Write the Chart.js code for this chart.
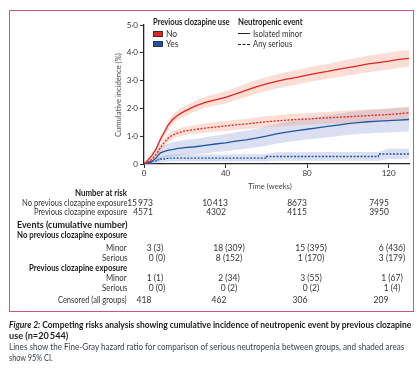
<!DOCTYPE html>
<html><head><meta charset="utf-8">
<script src="https://cdn.jsdelivr.net/npm/chart.js@4.4.1/dist/chart.umd.min.js"></script>
<style>
html,body{margin:0;padding:0;background:#fff;}
body{width:419px;height:373px;position:relative;overflow:hidden;font-family:Lato,"DejaVu Sans",sans-serif;}
#frame{position:absolute;left:9px;top:10px;width:405px;height:302px;border:1.5px solid #c9557c;box-sizing:border-box;}
#cv{position:absolute;left:0;top:0;}
.t{position:absolute;white-space:nowrap;line-height:1;color:#333;}
.box{position:absolute;width:10px;height:6px;box-sizing:border-box;border:0.8px solid #333;}
.ln{position:absolute;width:12px;height:0;}
</style></head>
<body>
<div id="frame"></div>
<canvas id="cv" width="419" height="195"></canvas>
<div id="txt"></div>
<script>
// ---- data ----
const weeks = [0,2,4,6,8,10,12,14,16,18,20,25,30,35,40,45,50,55,60,65,70,75,80,85,90,95,100,105,110,115,120,125,130];
const noMinor   = [0,0.15,0.32,0.55,0.88,1.15,1.42,1.60,1.73,1.82,1.90,2.08,2.22,2.31,2.40,2.52,2.65,2.77,2.88,2.97,3.05,3.12,3.20,3.27,3.33,3.40,3.47,3.53,3.60,3.65,3.70,3.76,3.80];
const noMinorLo = [0,0.10,0.24,0.45,0.76,1.02,1.27,1.44,1.56,1.64,1.72,1.89,2.02,2.10,2.18,2.29,2.41,2.53,2.63,2.72,2.79,2.86,2.94,3.00,3.06,3.12,3.18,3.24,3.30,3.35,3.40,3.45,3.50];
const noMinorHi = [0,0.20,0.40,0.65,1.00,1.28,1.57,1.76,1.90,2.00,2.08,2.27,2.42,2.52,2.62,2.75,2.89,3.01,3.13,3.22,3.31,3.38,3.46,3.54,3.60,3.68,3.76,3.82,3.90,3.95,4.00,4.07,4.10];
const noSer     = [0,0.08,0.18,0.35,0.58,0.78,0.94,1.04,1.10,1.15,1.19,1.24,1.29,1.33,1.37,1.41,1.44,1.48,1.52,1.55,1.58,1.60,1.62,1.64,1.66,1.68,1.70,1.72,1.74,1.76,1.78,1.81,1.84];
const noSerLo   = [0,0.05,0.12,0.26,0.46,0.65,0.80,0.90,0.96,1.00,1.04,1.08,1.12,1.16,1.19,1.23,1.26,1.29,1.32,1.35,1.37,1.39,1.41,1.43,1.45,1.46,1.48,1.50,1.52,1.54,1.56,1.58,1.62];
const noSerHi   = [0,0.11,0.24,0.44,0.70,0.91,1.08,1.18,1.24,1.30,1.34,1.40,1.46,1.50,1.55,1.59,1.62,1.67,1.72,1.75,1.79,1.81,1.83,1.85,1.87,1.90,1.92,1.94,1.96,1.98,2.00,2.04,2.06];
const yesMinor   = [0,0.05,0.10,0.22,0.40,0.45,0.50,0.52,0.55,0.57,0.59,0.62,0.67,0.72,0.76,0.82,0.87,0.93,1.00,1.08,1.15,1.20,1.25,1.30,1.35,1.40,1.45,1.49,1.52,1.54,1.56,1.58,1.60];
const yesMinorLo = [0,0.01,0.03,0.09,0.20,0.24,0.27,0.28,0.30,0.31,0.33,0.35,0.39,0.43,0.46,0.51,0.55,0.60,0.66,0.73,0.79,0.84,0.88,0.92,0.96,1.00,1.04,1.08,1.10,1.12,1.13,1.15,1.17];
const yesMinorHi = [0,0.10,0.18,0.36,0.62,0.68,0.74,0.77,0.81,0.84,0.87,0.90,0.96,1.02,1.07,1.14,1.20,1.27,1.35,1.44,1.52,1.57,1.63,1.69,1.75,1.80,1.86,1.90,1.94,1.96,1.99,2.01,2.03];
const yesSer     = [0,0.02,0.05,0.10,0.15,0.18,0.20,0.21,0.21,0.21,0.21,0.21,0.21,0.21,0.21,0.21,0.21,0.21,0.21,0.27,0.27,0.27,0.27,0.27,0.27,0.27,0.27,0.27,0.27,0.27,0.36,0.36,0.36];
const yesSerLo   = [0,0,0.01,0.03,0.05,0.07,0.08,0.09,0.09,0.09,0.09,0.09,0.09,0.09,0.09,0.09,0.09,0.09,0.09,0.12,0.12,0.12,0.12,0.12,0.12,0.12,0.12,0.12,0.12,0.12,0.18,0.18,0.18];
const yesSerHi   = [0,0.07,0.13,0.20,0.26,0.30,0.33,0.34,0.34,0.34,0.34,0.34,0.34,0.34,0.34,0.35,0.35,0.35,0.35,0.42,0.42,0.42,0.42,0.43,0.43,0.43,0.43,0.43,0.43,0.43,0.55,0.55,0.55];
const xTicks = [0,40,80,120];
const yTickLabels = ['0','1·0','2·0','3·0','4·0','5·0'];
const riskNo  = ['15\u2009973','10\u2009413','8673','7495'];
const riskYes = ['4571','4302','4115','3950'];
const evNoMinor  = ['3 (3)','18 (309)','15 (395)','6 (436)'];
const evNoSer    = ['0 (0)','8 (152)','1 (170)','3 (179)'];
const evYesMinor = ['1 (1)','2 (34)','3 (55)','1 (67)'];
const evYesSer   = ['0 (0)','0 (2)','0 (2)','1 (4)'];
const censored   = ['418','462','306','209'];

const RED='#e8231f', BLUE='#1f55a3';
const RED_BAND='rgba(243,150,120,0.30)', BLUE_BAND='rgba(140,160,215,0.32)';
const pts = arr => weeks.map((w,i)=>({x:w,y:arr[i]}));
const band = (lo,hi,col)=>[
  {data:pts(lo),borderWidth:0,pointRadius:0,fill:false,order:5},
  {data:pts(hi),borderWidth:0,pointRadius:0,fill:'-1',backgroundColor:col,order:5}
];
const line = (arr,col,dash,stepped)=>({data:pts(arr),borderColor:col,borderWidth:1.3,borderDash:dash,pointRadius:0,fill:false,order:1,stepped:stepped||false});
const datasets = [
  ...band(noMinorLo,noMinorHi,RED_BAND),
  ...band(noSerLo,noSerHi,RED_BAND),
  ...band(yesMinorLo,yesMinorHi,BLUE_BAND),
  ...band(yesSerLo,yesSerHi,BLUE_BAND),
  line(noMinor,RED,[]),
  line(noSer,RED,[2,1.5]),
  line(yesMinor,BLUE,[]),
  line(yesSer,BLUE,[2,1.5],'after')
];
const FONT={family:'Lato',size:8};
const axisCommon={
  grid:{drawOnChartArea:false,drawTicks:true,tickLength:4,color:'#333',lineWidth:1},
  border:{color:'#222',width:1.3},
};
new Chart(document.getElementById('cv'),{
  type:'line',
  data:{datasets},
  options:{
    responsive:false,animation:false,devicePixelRatio:1,
    layout:{padding:{top:25,right:10,left:0,bottom:0}},
    plugins:{legend:{display:false},tooltip:{enabled:false}},
    scales:{
      x:{type:'linear',min:0,max:130,...axisCommon,
        afterBuildTicks:s=>{s.ticks=xTicks.map(v=>({value:v}));},
        afterFit:s=>{s.height=31;},
        ticks:{font:FONT,color:'#333',padding:1,maxRotation:0,autoSkip:false,callback:(v)=>String(v)}},
      y:{type:'linear',min:0,max:5,...axisCommon,
        afterFit:s=>{s.width=144;},
        ticks:{stepSize:1,font:FONT,color:'#333',padding:2,callback:(v,i)=>yTickLabels[i]}}
    }
  }
});

// ---- text ----
const host=document.getElementById('txt');
const items=[];
function T(s,x,y,o={}){
  const d=document.createElement('div');
  d.className='t';
  if(o.html) d.innerHTML=s; else d.textContent=s;
  d.style.fontSize=(o.size||8.5)+'px';
  if(o.bold) d.style.fontWeight='700';
  if(o.color) d.style.color=o.color;
  d.style.top=y+'px';
  const al=o.align||'left';
  if(al==='right'){d.style.right=(419-x)+'px';d.style.transformOrigin='right center';}
  else {d.style.left=x+'px';d.style.transformOrigin='left center';}
  host.appendChild(d);
  items.push({d,al,w:o.w,rot:o.rot,x});
  return d;
}
function layout(){
  for(const it of items){
    const d=it.d; const wd=d.offsetWidth;
    const k=it.w?it.w/wd:1;
    if(it.rot){
      d.style.transformOrigin='center center';
      d.style.left=(it.x-wd/2)+'px';
      d.style.transform=`translateY(-50%) rotate(-90deg) scaleX(${k})`;
    } else if(it.al==='center'){
      d.style.transformOrigin='center center';
      d.style.transform=`translate(-50%,-50%) scaleX(${k})`;
    } else {
      d.style.transform=`translateY(-50%) scaleX(${k})`;
    }
  }
}
// legend
T('Previous clozapine use',153,22,{bold:true,w:77,color:'#1a1a1a'});
T('No',166,34,{});
T('Yes',166,44,{});
T('Neutropenic event',238,22,{bold:true,w:65,color:'#1a1a1a'});
T('Isolated minor',253,33.5,{w:49});
T('Any serious',253,44,{w:39});
[['#e8231f',31],['#1f55a3',41]].forEach(([c,y])=>{const b=document.createElement('div');b.className='box';b.style.left='153px';b.style.top=y+'px';b.style.background=c;host.appendChild(b);});
[['solid',33],['dashed',43.5]].forEach(([s,y])=>{const l=document.createElement('div');l.className='ln';l.style.left='238px';l.style.top=y+'px';l.style.borderTop='1px '+s+' #222';host.appendChild(l);});
// axis titles
T('Cumulative incidence (%)',118,95,{rot:true,w:84,size:8,color:'#444'});
T('Time (weeks)',270,186,{align:'center',w:44,size:8,color:'#444'});
// table labels
const LX=127;
T('Number at risk',LX,193,{align:'right',bold:true,w:52,color:'#1a1a1a'});
T('No previous clozapine exposure',LX,203,{align:'right',w:105});
T('Previous clozapine exposure',LX,212,{align:'right',w:93});
T('Events (cumulative number)',LX,225,{align:'right',bold:true,w:110,color:'#1a1a1a'});
T('No previous clozapine exposure',LX,235,{align:'right',bold:true,w:110,color:'#1a1a1a'});
T('Minor',LX,247.5,{align:'right',w:21});
T('Serious',LX,257.5,{align:'right',w:25});
T('Previous clozapine exposure',LX,268,{align:'right',bold:true,w:98,color:'#1a1a1a'});
T('Minor',LX,278,{align:'right',w:21});
T('Serious',LX,288,{align:'right',w:25});
T('Censored (all groups)',LX,299.5,{align:'right',w:69});
// table values (column centres)
const rows=[
  [riskNo,[140,215,297,379],203],
  [riskYes,[143,216,297,379],212],
  [evNoMinor,[155,229,311,392],247.5],
  [evNoSer,[157,229,311,392],257.5],
  [evYesMinor,[155,229,311,392],278],
  [evYesSer,[157,229,311,392],288],
  [censored,[144,219,300,381],299.5]
];
rows.forEach(([vals,xs,y])=>vals.forEach((v,i)=>T(v,xs[i],y,{align:'center'})));
// caption
T('<i>Figure 2:</i> Competing risks analysis showing cumulative incidence of neutropenic event by previous clozapine',9,325,{html:true,bold:true,size:8.5,w:402,color:'#1a1a1a'});
T('use (n=20\u2009544)',9,335.5,{bold:true,size:8.5,w:59,color:'#1a1a1a'});
T('Lines show the Fine-Gray hazard ratio for comparison of serious neutropenia between groups, and shaded areas',9,347,{size:8.5,w:395,color:'#3a4150'});
T('show 95% CI.',9,357.5,{size:8.5,w:44,color:'#3a4150'});
layout();
if(document.fonts&&document.fonts.ready){document.fonts.ready.then(layout);}
</script>
</body></html>
